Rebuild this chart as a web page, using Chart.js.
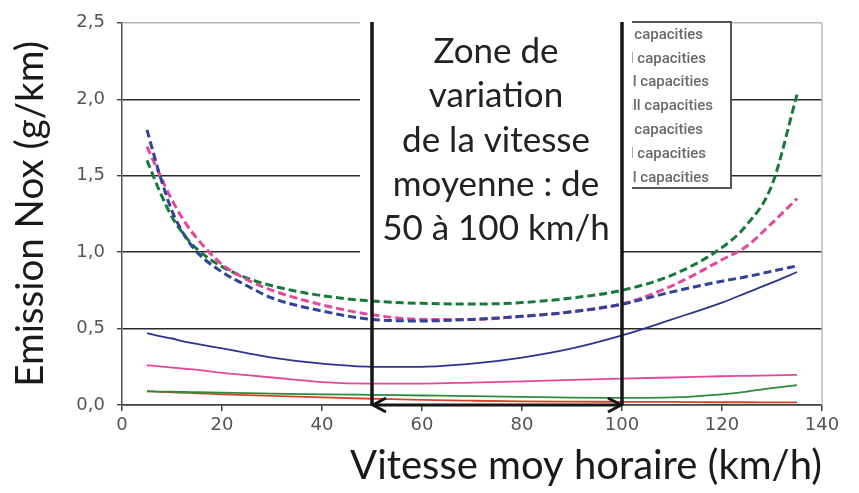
<!DOCTYPE html>
<html>
<head>
<meta charset="utf-8">
<script src="https://cdn.jsdelivr.net/npm/chart.js@4.4.1/dist/chart.umd.min.js"></script>
<style>
  html, body { margin: 0; padding: 0; background: #fff; }
</style>
</head>
<body>
<canvas id="noxChart" width="859" height="493"></canvas>
<script>
// ---- data ----
const speeds = [5, 7.5, 10, 12.5, 15, 20, 25, 30, 40, 50, 60, 70, 80, 90, 100, 110, 120, 125, 130, 135];

const dashedBlue  = [1.80, 1.51, 1.27, 1.11, 1.00, 0.87, 0.78, 0.70, 0.615, 0.56, 0.55, 0.56, 0.58, 0.61, 0.66, 0.74, 0.81, 0.84, 0.875, 0.91];
const dashedPink  = [1.69, 1.51, 1.34, 1.20, 1.09, 0.92, 0.82, 0.75, 0.655, 0.59, 0.56, 0.56, 0.58, 0.61, 0.66, 0.78, 0.95, 1.04, 1.19, 1.35];
const dashedGreen = [1.60, 1.40, 1.23, 1.11, 1.02, 0.905, 0.83, 0.78, 0.715, 0.68, 0.665, 0.66, 0.67, 0.70, 0.75, 0.85, 1.03, 1.18, 1.44, 2.03];
const solidBlue   = [0.47, 0.45, 0.435, 0.415, 0.40, 0.37, 0.34, 0.31, 0.27, 0.25, 0.25, 0.27, 0.31, 0.37, 0.455, 0.56, 0.67, 0.735, 0.80, 0.87];
const solidPink   = [0.26, 0.253, 0.245, 0.237, 0.23, 0.21, 0.195, 0.18, 0.15, 0.14, 0.14, 0.147, 0.155, 0.165, 0.173, 0.18, 0.188, 0.191, 0.194, 0.197];
const solidGreen  = [0.09, 0.088, 0.087, 0.085, 0.084, 0.08, 0.078, 0.075, 0.07, 0.066, 0.062, 0.058, 0.053, 0.048, 0.047, 0.05, 0.07, 0.088, 0.11, 0.13];
const solidRed    = [0.09, 0.086, 0.083, 0.08, 0.077, 0.07, 0.065, 0.06, 0.05, 0.041, 0.033, 0.028, 0.024, 0.022, 0.021, 0.02, 0.018, 0.018, 0.017, 0.017];

const seriesLabels = ['capacities', 'l capacities', 'll capacities', 'all capacities',
                      'capacities', 'l capacities', 'll capacities'];

const xTicks = [0, 20, 40, 60, 80, 100, 120, 140];
const yTicks = [0, 0.5, 1.0, 1.5, 2.0, 2.5];

const zoneStart = 50;
const zoneEnd = 100;
const zoneText = ['Zone de', 'variation', 'de la vitesse', 'moyenne : de', '50 à 100 km/h'];

const yTitle = 'Emission Nox (g/km)';
const xTitle = 'Vitesse moy horaire (km/h)';

// ---- helpers ----
const toPoints = values => values.map((v, i) => ({ x: speeds[i], y: v }));
const comma = v => v.toFixed(1).replace('.', ',');
const bigFont = 'Lato, "Open Sans", sans-serif';

function series(label, values, color, dashed) {
    return {
        label: label,
        data: toPoints(values),
        borderColor: color,
        borderWidth: dashed ? 3 : 1.8,
        borderDash: dashed ? [8, 4] : [],
        pointRadius: 0,
        cubicInterpolationMode: 'monotone',
        fill: false
    };
}

// ---- overlay: speed band, text panel, clipped legend box ----
const legendBox = { left: 632, right: 731, top: 22, bottom: 188 };

const zonePlugin = {
    id: 'zonePlugin',
    beforeDatasetsDraw(chart) {
        const { ctx, chartArea, scales: { x } } = chart;
        const x0 = x.getPixelForValue(zoneStart);
        const x1 = x.getPixelForValue(zoneEnd);
        const lb = legendBox;

        ctx.save();
        // plot frame on the right
        ctx.strokeStyle = '#bdbdbd';
        ctx.lineWidth = 1.5;
        ctx.beginPath();
        ctx.moveTo(chartArea.right, chartArea.top);
        ctx.lineTo(chartArea.right, chartArea.bottom);
        ctx.stroke();

        // white panel behind the zone text hides the grid lines
        ctx.fillStyle = '#fff';
        ctx.fillRect(x0 - 12, 19, lb.left - (x0 - 12), 182);
        ctx.fillRect(x0 - 12, 200, x1 - (x0 - 12), 57);

        // legend box, cut off on its left side
        ctx.fillRect(lb.left, lb.top, lb.right - lb.left, lb.bottom - lb.top);
        ctx.strokeStyle = '#555';
        ctx.lineWidth = 2;
        ctx.beginPath();
        ctx.moveTo(lb.left, lb.top);
        ctx.lineTo(lb.right, lb.top);
        ctx.lineTo(lb.right, lb.bottom);
        ctx.lineTo(lb.left, lb.bottom);
        ctx.stroke();

        ctx.beginPath();
        ctx.rect(lb.left, lb.top, lb.right - lb.left, lb.bottom - lb.top);
        ctx.clip();
        ctx.fillStyle = '#6a6a6a';
        ctx.font = '500 15px Roboto, sans-serif';
        ctx.textAlign = 'right';
        ctx.textBaseline = 'middle';
        const rightEdges = [703, 706, 709, 713, 703, 706, 709];
        chart.data.datasets.forEach((ds, i) => {
            ctx.fillText(ds.label, rightEdges[i], 35 + i * 23.8);
        });
        ctx.restore();
    },
    afterDatasetsDraw(chart) {
        const { ctx, chartArea, scales: { x } } = chart;
        const x0 = x.getPixelForValue(zoneStart);
        const x1 = x.getPixelForValue(zoneEnd);
        const yb = chartArea.bottom;

        ctx.save();
        ctx.strokeStyle = '#161616';
        ctx.lineWidth = 3.5;
        ctx.lineCap = 'butt';

        // band limits
        ctx.beginPath();
        ctx.moveTo(x0, 22);
        ctx.lineTo(x0, yb);
        ctx.moveTo(x1, 22);
        ctx.lineTo(x1, yb);
        ctx.stroke();

        // double arrow along the axis
        ctx.lineWidth = 3;
        ctx.beginPath();
        ctx.moveTo(x0 + 2, yb);
        ctx.lineTo(x1 - 2, yb);
        ctx.stroke();
        ctx.lineJoin = 'miter';
        ctx.beginPath();
        ctx.moveTo(x0 + 14, yb - 7);
        ctx.lineTo(x0 + 1, yb);
        ctx.lineTo(x0 + 14, yb + 7);
        ctx.moveTo(x1 - 14, yb - 7);
        ctx.lineTo(x1 - 1, yb);
        ctx.lineTo(x1 - 14, yb + 7);
        ctx.stroke();

        // zone caption
        ctx.fillStyle = '#222';
        ctx.font = '35px ' + bigFont;
        ctx.textAlign = 'center';
        ctx.textBaseline = 'alphabetic';
        const cx = (x0 + x1) / 2 - 1;
        zoneText.forEach((line, i) => ctx.fillText(line, cx, 63 + i * 44.3));
        ctx.restore();
    }
};

// ---- chart ----
const colors = {
    blue: '#2f4399',
    navy: '#2b3590',
    pink: '#e4489a',
    green: '#177a3b',
    lightGreen: '#2e8b3e',
    red: '#d8432a'
};

new Chart(document.getElementById('noxChart'), {
    type: 'line',
    data: {
        datasets: [
            series(seriesLabels[0], dashedBlue, colors.blue, true),
            series(seriesLabels[1], dashedPink, colors.pink, true),
            series(seriesLabels[2], dashedGreen, colors.green, true),
            series(seriesLabels[3], solidBlue, colors.navy, false),
            series(seriesLabels[4], solidPink, colors.pink, false),
            series(seriesLabels[5], solidGreen, colors.lightGreen, false),
            series(seriesLabels[6], solidRed, colors.red, false)
        ]
    },
    options: {
        responsive: false,
        animation: false,
        layout: { padding: { top: 16, right: 37, left: 0, bottom: 0 } },
        plugins: {
            legend: { display: false },
            tooltip: { enabled: false }
        },
        scales: {
            x: {
                type: 'linear',
                min: xTicks[0],
                max: xTicks[xTicks.length - 1],
                afterBuildTicks: s => { s.ticks = xTicks.map(v => ({ value: v })); },
                afterFit: s => { s.height = 88; },
                grid: { drawOnChartArea: false, tickLength: 6, tickColor: '#444', lineWidth: 1.5 },
                border: { color: '#444', width: 1.5 },
                ticks: {
                    color: '#555',
                    padding: 4,
                    font: { family: '"DejaVu Sans", sans-serif', size: 18 }
                },
                title: {
                    display: true,
                    text: xTitle,
                    align: 'end',
                    color: '#1a1a1a',
                    font: { family: bigFont, size: 40 },
                    padding: { top: 0, bottom: 3 }
                }
            },
            y: {
                min: yTicks[0],
                max: yTicks[yTicks.length - 1],
                afterBuildTicks: s => { s.ticks = yTicks.map(v => ({ value: v })); },
                afterFit: s => { s.width = 122; },
                grid: {
                    color: ctx => (ctx.tick && ctx.tick.value === 2.5) ? '#b5b5b5' : '#2a2a2a',
                    lineWidth: 1.4,
                    tickLength: 5,
                    tickColor: '#444'
                },
                border: { color: '#555', width: 1.5 },
                ticks: {
                    color: '#555',
                    padding: 12,
                    font: { family: '"DejaVu Sans", sans-serif', size: 18 },
                    callback: v => comma(v)
                },
                title: {
                    display: true,
                    text: yTitle,
                    color: '#1a1a1a',
                    font: { family: bigFont, size: 38.5 },
                    padding: { top: 7, bottom: 0 }
                }
            }
        }
    },
    plugins: [zonePlugin]
});
</script>
</body>
</html>
